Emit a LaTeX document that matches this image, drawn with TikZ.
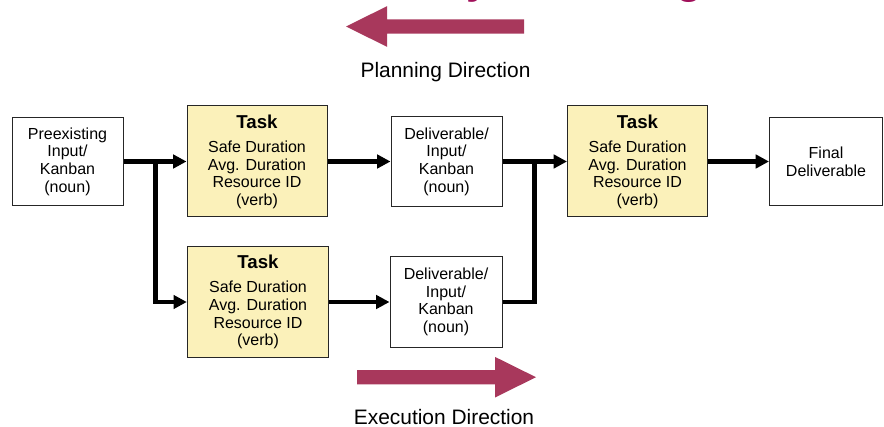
\documentclass[tikz,border=0pt]{standalone}
\usepackage{fontspec}
\setmainfont{Liberation Sans}
\usetikzlibrary{arrows.meta}
\definecolor{taskfill}{RGB}{251,241,186}
\definecolor{dirarrow}{RGB}{168,56,92}
\definecolor{titlecol}{RGB}{160,16,90}
\begin{document}
\begin{tikzpicture}[x=0.75pt,y=-0.75pt,
  box/.style={draw=black!85, line width=0.75pt, align=center, inner sep=0pt,
    font=\fontsize{12}{13.2}\selectfont},
  taskbox/.style={box, fill=taskfill, minimum width=105pt, minimum height=83.25pt},
  itembox/.style={box, fill=white, minimum width=83.25pt, minimum height=67.5pt},
  flow/.style={line width=3.5pt, -{Triangle[length=10pt,width=10pt]}},
  link/.style={line width=3.5pt},
  dirlabel/.style={font=\fontsize{15.7}{18}\selectfont, anchor=base, inner sep=0pt},
  titlefrag/.style={font=\fontsize{32}{36}\selectfont\bfseries, text=titlecol,
    anchor=base west, inner sep=0pt}
]
\useasboundingbox (0,0) rectangle (884,427);
\clip (0,0) rectangle (884,427);

% title fragments (cut off at the top edge, as in the reference)
\node[titlefrag] (ty) at (466,-6.5) {y};
\node[titlefrag] (tg) at (676,-6.5) {g};

% direction arrows
\fill[dirarrow] (346,26.5) -- (387,6.2) -- (387,19.3) -- (524,19.3) -- (524,33.7)
  -- (387,33.7) -- (387,46.8) -- cycle;
\fill[dirarrow] (536,377.2) -- (495,356.9) -- (495,370.1) -- (357,370.1) -- (357,384.3)
  -- (495,384.3) -- (495,397.5) -- cycle;
\node[dirlabel] (plan) at (445.5,78) {Planning Direction};
\node[dirlabel] (exec) at (444,424.5) {Execution Direction};

% boxes
\node[itembox, minimum height=66pt] (pre) at (67.5,161.5)
  {Preexisting\\Input/\\Kanban\\(noun)};
\node[taskbox] (t1) at (257,161.5)
  {\textbf{\fontsize{14}{14}\selectfont Task}\\[5.1pt]Safe Duration\\Avg. Duration\\Resource ID\\(verb)};
\node[itembox] (d1) at (446.5,161.5)
  {Deliverable/\\Input/\\Kanban\\(noun)};
\node[taskbox] (t3) at (637.5,161.5)
  {\textbf{\fontsize{14}{14}\selectfont Task}\\[5.1pt]Safe Duration\\Avg. Duration\\Resource ID\\(verb)};
\node[itembox, minimum width=84.75pt, minimum height=66pt] (fin) at (826,161.5)
  {Final\\Deliverable};
\node[taskbox, minimum width=106pt, minimum height=82.5pt] (t2) at (258,302)
  {\textbf{\fontsize{14}{14}\selectfont Task}\\[5.1pt]Safe Duration\\Avg. Duration\\Resource ID\\(verb)};
\node[itembox, minimum width=84pt] (d2) at (446,302)
  {Deliverable/\\Input/\\Kanban\\(noun)};

% junction points
\coordinate (split) at (155.5,161.5);
\coordinate (merge) at (534.5,161.5);

% connectors
\draw[flow] (pre) -- (t1);
\draw[flow] (split) |- (t2);
\draw[flow] (t1) -- (d1);
\draw[flow] (d1) -- (t3);
\draw[flow] (t2) -- (d2);
\draw[link] (d2) -| (merge);
\draw[flow] (t3) -- (fin);
\end{tikzpicture}
\end{document}
